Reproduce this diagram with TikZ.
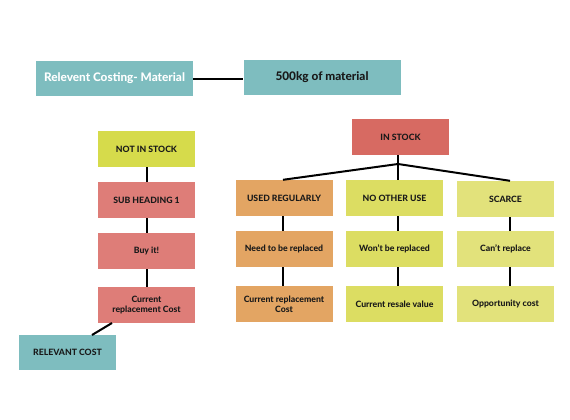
\documentclass[tikz,border=0pt]{standalone}
\usepackage{fontspec}
\setmainfont{Lato}[BoldFont={Lato Heavy}]
\begin{document}
\begin{tikzpicture}[x=1pt,y=-1pt,
  box/.style={draw=none,minimum width=97pt,minimum height=36pt,inner sep=1pt,align=center,font=\bfseries\fontsize{8.7}{10}\selectfont,text=black!90},
  big/.style={box,minimum width=157pt,minimum height=35pt,font=\bfseries\fontsize{11.8}{13}\selectfont},
  conn/.style={line width=2pt,black}]
\useasboundingbox[fill=white] (0,0) rectangle (570,420);
\definecolor{teal}{HTML}{7EBDBF}
\definecolor{lime}{HTML}{D6DB4B}
\definecolor{salmon}{HTML}{DE7D78}
\definecolor{red}{HTML}{D76A62}
\definecolor{orange}{HTML}{E3A563}
\definecolor{yel}{HTML}{DCDD62}
\definecolor{lyel}{HTML}{E2E27B}
\node[big,fill=teal,text=white] (rc) at (114.5,78.5) {Relevent Costing- Material};
\node[big,fill=teal] (kg) at (322,77.5) {500kg of material};
\draw[conn] (rc.east) -- (kg.west |- rc.east);
% left column
\node[box,fill=lime] (nis) at (146.5,149) {NOT IN STOCK};
\node[box,fill=salmon] (sub) at (146.5,200) {SUB HEADING 1};
\node[box,fill=salmon] (buy) at (146.5,251) {Buy it!};
\node[box,fill=salmon] (crc) at (146.5,305) {Current\\replacement Cost};
\node[box,fill=teal,minimum height=35pt] (rel) at (67.5,352.5) {RELEVANT COST};
\draw[conn] (nis) -- (sub);
\draw[conn] (sub) -- (buy);
\draw[conn] (buy) -- (crc);
\coordinate (c1) at (112,323);
\coordinate (c2) at (92,335);
\draw[conn] (c1) -- (c2);
% right tree
\node[box,fill=red] (ins) at (400.5,137) {IN STOCK};
\coordinate (j) at (398,164);
\node[box,fill=orange] (ur) at (284,198) {USED REGULARLY};
\node[box,fill=yel] (nou) at (394.5,198) {NO OTHER USE};
\node[box,fill=lyel] (sc) at (505.5,199) {SCARCE};
\node[box,fill=orange] (nr) at (284,249) {Need to be replaced};
\node[box,fill=yel] (wr) at (394.5,249) {Won't be replaced};
\node[box,fill=lyel] (cr) at (505.5,249) {Can't replace};
\node[box,fill=orange] (crc2) at (284,304) {Current replacement\\Cost};
\node[box,fill=yel] (rv) at (394.5,304) {Current resale value};
\node[box,fill=lyel] (oc) at (505.5,304) {Opportunity cost};
\draw[conn] (ins.south -| j) -- (j);
\draw[conn] (j) -- (ur.north -| 283,0);
\draw[conn] (j) -- (nou.north -| j);
\draw[conn] (j) -- (sc.north -| 510,0);
\draw[conn] (ur.south -| 283,0) -- (nr.north -| 283,0);
\draw[conn] (nou.south -| j) -- (wr.north -| j);
\draw[conn] (sc.south -| 510,0) -- (cr.north -| 510,0);
\draw[conn] (nr.south -| 283,0) -- (crc2.north -| 283,0);
\draw[conn] (wr.south -| j) -- (rv.north -| j);
\draw[conn] (cr.south -| 510,0) -- (oc.north -| 510,0);
\end{tikzpicture}
\end{document}
